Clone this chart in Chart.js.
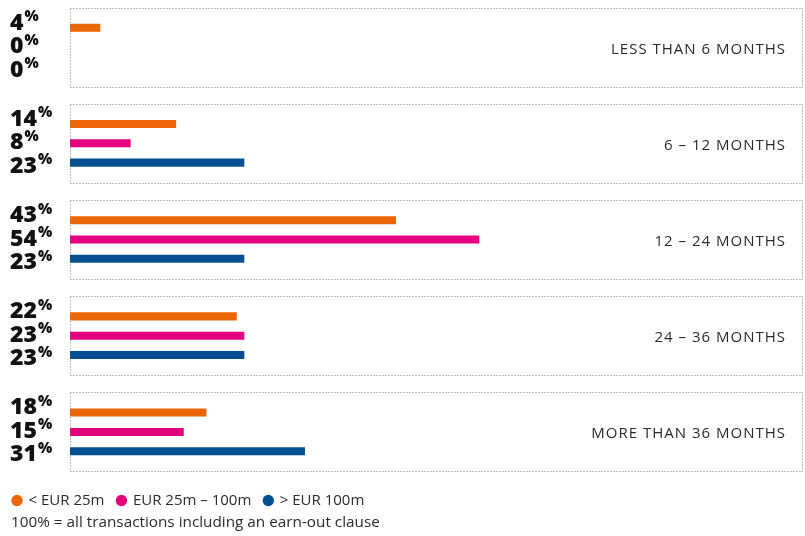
<!DOCTYPE html>
<html><head><meta charset="utf-8">
<script src="https://cdn.jsdelivr.net/npm/chart.js@4"></script>
<style>
html,body{margin:0;padding:0;background:#fff;overflow:hidden;width:805px;height:536px}
#wrap{position:absolute;left:0;top:-1px;width:805px;height:537px}
</style>
</head><body><div id="wrap"><canvas id="c" width="805" height="537"></canvas></div>
<script>
const categories = ['LESS THAN 6 MONTHS', '6 – 12 MONTHS', '12 – 24 MONTHS', '24 – 36 MONTHS', 'MORE THAN 36 MONTHS'];
const seriesNames = ['< EUR 25m', 'EUR 25m – 100m', '> EUR 100m'];
const smallDeals = [4, 14, 43, 22, 18];
const midDeals = [0, 8, 54, 23, 15];
const largeDeals = [0, 23, 23, 23, 31];
const footnote = '100% = all transactions including an earn-out clause';
const xMax = 96.7;

const COLORS = ['#EC6608', '#E4007C', '#004F91'];
const FONT = '"Open Sans", "Noto Sans", sans-serif';

const decor = {
  id: 'decor',
  beforeDatasetsDraw(chart) {
    const ctx = chart.ctx, y = chart.scales.y, area = chart.chartArea;
    ctx.save();
    ctx.strokeStyle = '#808080';
    ctx.lineWidth = 1;
    ctx.setLineDash([1, 2]);
    categories.forEach((c, i) => {
      const cy = y.getPixelForValue(i);
      const top = Math.round(cy - 39.5) + 0.5, bot = Math.round(cy + 39.5) + 0.5;
      const l = area.left + 0.5, r = area.right - 0.5;
      ctx.beginPath();
      ctx.moveTo(l, top); ctx.lineTo(r, top); ctx.lineTo(r, bot); ctx.lineTo(l, bot); ctx.closePath();
      ctx.stroke();
    });
    ctx.restore();
  },
  afterDraw(chart) {
    const ctx = chart.ctx, y = chart.scales.y;
    ctx.save();
    // right category labels
    ctx.fillStyle = '#2b2b2b';
    ctx.font = '15px ' + FONT;
    ctx.textAlign = 'right';
    ctx.textBaseline = 'alphabetic';
    try { ctx.letterSpacing = '1px'; } catch (e) {}
    categories.forEach((c, i) => {
      const cy = y.getPixelForValue(i);
      ctx.fillText(c, 786, cy + 6.5);
    });
    try { ctx.letterSpacing = '0px'; } catch (e) {}
    // left value labels
    ctx.textAlign = 'left';
    ctx.fillStyle = '#111';
    const sets = chart.data.datasets;
    categories.forEach((c, i) => {
      const cy = y.getPixelForValue(i);
      sets.forEach((ds, j) => {
        const base = cy + 6 + (j - 1) * 23.5;
        const t = String(ds.data[i]);
        ctx.font = '800 23px ' + FONT;
        ctx.fillText(t, 10, base);
        const w = ctx.measureText(t).width;
        ctx.font = '800 15px ' + FONT;
        ctx.fillText('%', 10 + w + 1, base - 8.5);
      });
    });
    // footnote
    ctx.fillStyle = '#2b2b2b';
    ctx.font = '15.3px ' + FONT;
    ctx.fillText(footnote, 11, 527.5);
    ctx.restore();
  }
};

new Chart(document.getElementById('c'), {
  type: 'bar',
  data: {
    labels: categories,
    datasets: [
      { label: seriesNames[0], data: smallDeals, backgroundColor: COLORS[0] },
      { label: seriesNames[1], data: midDeals, backgroundColor: COLORS[1] },
      { label: seriesNames[2], data: largeDeals, backgroundColor: COLORS[2] }
    ]
  },
  options: {
    indexAxis: 'y',
    responsive: false,
    animation: false,
    categoryPercentage: 0.603,
    barPercentage: 0.415,
    borderWidth: 0,
    layout: { padding: { top: 0, right: 2, bottom: 18, left: 0 } },
    scales: {
      x: { min: 0, max: xMax, display: false },
      y: {
        display: true,
        ticks: { display: false },
        grid: { display: false },
        border: { display: false },
        afterFit(s) { s.width = 70; }
      }
    },
    plugins: {
      legend: {
        position: 'bottom',
        align: 'start',
        labels: {
          usePointStyle: true,
          pointStyle: 'circle',
          boxWidth: 8,
          boxHeight: 8,
          padding: 13,
          color: '#2b2b2b',
          font: { family: FONT, size: 15 }
        }
      },
      tooltip: { enabled: false }
    }
  },
  plugins: [decor]
});
</script>
</body></html>
